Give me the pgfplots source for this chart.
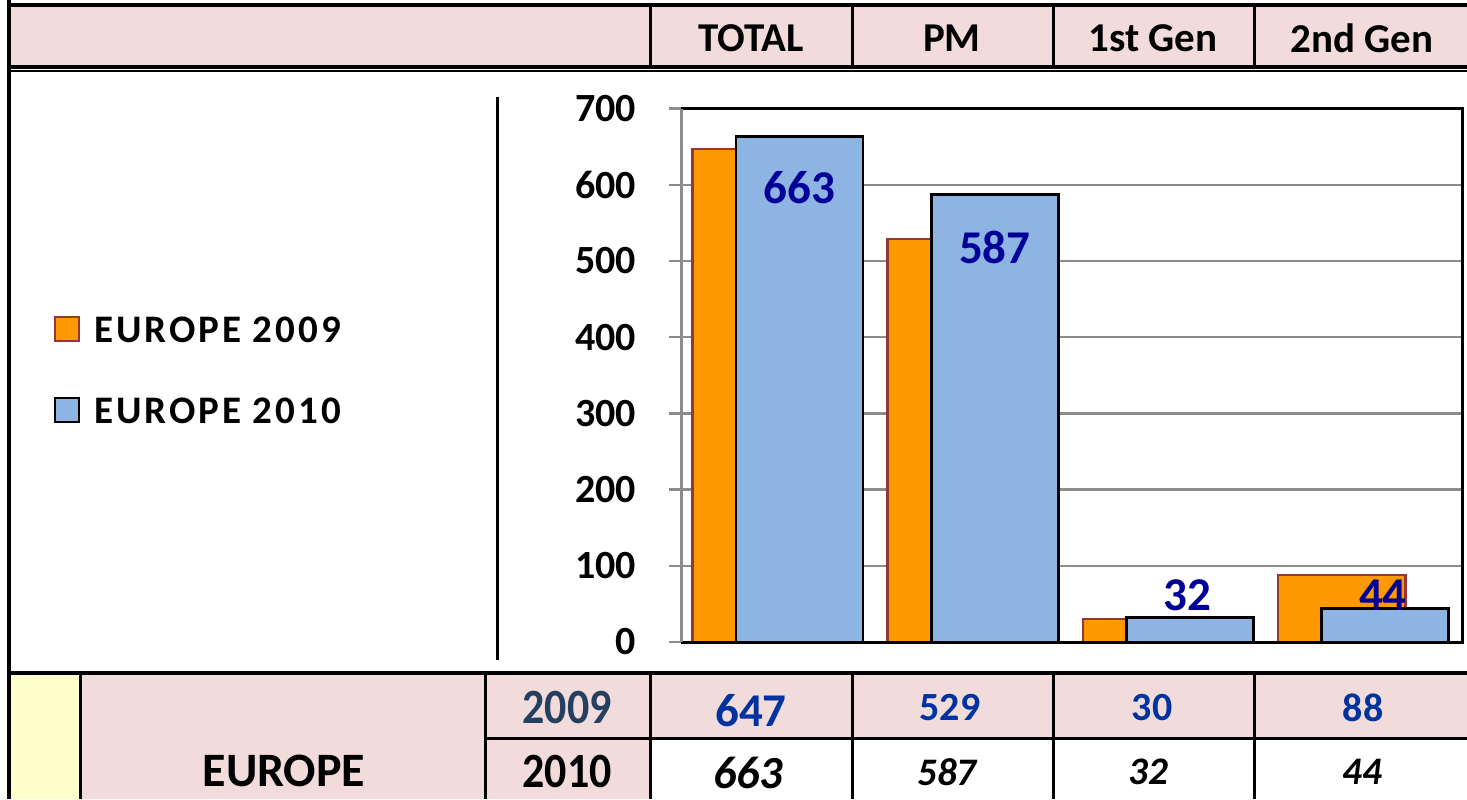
\documentclass[border=0pt]{standalone}
\usepackage{pgfplots}
\pgfplotsset{compat=1.18}
\usepackage{fontspec}
\setmainfont{Carlito}
\definecolor{pinkc}{HTML}{F2DCDB}
\definecolor{yellowc}{HTML}{FFFFCC}
\definecolor{orangec}{HTML}{FF9900}
\definecolor{orangeedge}{HTML}{953735}
\definecolor{bluec}{HTML}{8EB4E3}
\definecolor{gridgray}{HTML}{8C8C8C}
\definecolor{labelblue}{HTML}{000099}
\definecolor{rowblue}{HTML}{0033A0}
\definecolor{yearblue}{HTML}{243F60}
\newcommand{\fs}[1]{\fontsize{#1}{#1}\selectfont}
\begin{document}
\begin{tikzpicture}[x=0.5pt,y=-0.5pt]
\clip (0,0) rectangle (1467,799);
% ---------- backgrounds ----------
\fill[pinkc] (9,5) rectangle (1467,67);
\fill[yellowc] (9,673) rectangle (80,799);
\fill[pinkc] (80,673) rectangle (650,799);
\fill[pinkc] (650,673) rectangle (1467,738);
% ---------- header ----------
\draw[line width=2pt] (8,5) -- (1467,5);
\draw[line width=2pt] (8,67) -- (1467,67);
\draw[line width=0.8pt] (9,71) -- (1467,71);
\foreach \xx in {650,852,1053,1254} \draw[line width=1.5pt] (\xx,5) -- (\xx,67);
\draw[line width=2pt] (9,0) -- (9,799);
\node[font=\fs{20.5pt}\bfseries] at (751,38) {TOTAL};
\node[font=\fs{20.5pt}\bfseries] at (952,38) {PM};
\node[font=\fs{20.5pt}\bfseries] at (1153,38) {1st Gen};
\node[font=\fs{20.5pt}\bfseries] at (1362,38) {2nd Gen};
% ---------- middle separator ----------
\draw[line width=1.5pt] (497,97) -- (497,660);
% ---------- legend ----------
\draw[fill=orangec, draw=orangeedge, line width=1.4pt] (55,317) rectangle (79,341);
\draw[fill=bluec, draw=black, line width=1.4pt] (55,398) rectangle (79,422);
\node[anchor=west, inner sep=0pt, font=\fs{19.5pt}\bfseries\addfontfeature{LetterSpace=7.5}] at (94,330) {EUROPE 2009};
\node[anchor=west, inner sep=0pt, font=\fs{19.5pt}\bfseries\addfontfeature{LetterSpace=7.5}] at (94,411) {EUROPE 2010};
% ---------- chart ----------
\begin{axis}[
  at={(340.5pt,-321pt)}, anchor=south west,
  scale only axis, width=390.5pt, height=266.75pt,
  xmin=-0.5, xmax=3.5, ymin=0, ymax=700,
  xtick=\empty, ytick={0,100,...,700}, ytick pos=left,
  ymajorgrids, grid style={draw=gridgray, line width=1.2pt},
  axis line style={draw=none},
  tick align=outside, major tick length=6pt,
  ytick style={draw=gridgray, line width=1.2pt},
  /pgf/number format/assume math mode=true,
  yticklabel style={font=\fs{20pt}\bfseries, xshift=-13pt},
  clip=false,
]
\addplot[ybar, bar width=0.651, bar shift=-0.116, fill=orangec, draw=orangeedge, line width=1.3pt]
  coordinates {(0,647) (1,529) (2,30) (3,88)};
\addplot[ybar, bar width=0.651, bar shift=0.107, fill=bluec, draw=black, line width=1.4pt]
  coordinates {(0,663) (1,587) (2,32) (3,44)};
\addplot[draw=none, mark=none, nodes near coords, point meta=explicit symbolic,
  nodes near coords style={anchor=center, font=\fs{23.5pt}\bfseries, text=labelblue}]
  coordinates {(0.107,596) [663] (1.107,518) [587] (2.092,62) [32] (3.095,62) [44]};
\draw[black, line width=1.5pt] (rel axis cs:0,1) -- (rel axis cs:1,1) -- (rel axis cs:1,0) -- (rel axis cs:0,0);
\draw[gridgray, line width=1.5pt] (rel axis cs:0,0) -- (rel axis cs:0,1);
\end{axis}
% ---------- bottom table ----------
\draw[line width=2pt] (8,673) -- (1467,673);
\draw[line width=1.5pt] (485,738) -- (1467,738);
\foreach \xx in {80,485,650,852,1053,1254} \draw[line width=1.5pt] (\xx,673) -- (\xx,799);
\node[font=\fs{22pt}\bfseries, text=yearblue] at (567,707) {\scalebox{1}[1.12]{2009}};
\node[font=\fs{22pt}\bfseries] at (567,771) {\scalebox{1}[1.12]{2010}};
\node[font=\fs{24pt}\bfseries] at (284,771) {EUROPE};
\node[font=\fs{23.5pt}\bfseries, text=rowblue] at (751,711) {647};
\node[font=\fs{20pt}\bfseries, text=rowblue] at (950,708) {529};
\node[font=\fs{20pt}\bfseries, text=rowblue] at (1152,708) {30};
\node[font=\fs{20pt}\bfseries, text=rowblue] at (1363,708) {88};
\node[font=\fs{23pt}\bfseries\itshape] at (748,773) {663};
\node[font=\fs{19.5pt}\bfseries\itshape] at (947,772) {587};
\node[font=\fs{19.5pt}\bfseries\itshape] at (1148,772) {32};
\node[font=\fs{19.5pt}\bfseries\itshape] at (1362,772) {44};
\end{tikzpicture}
\end{document}
